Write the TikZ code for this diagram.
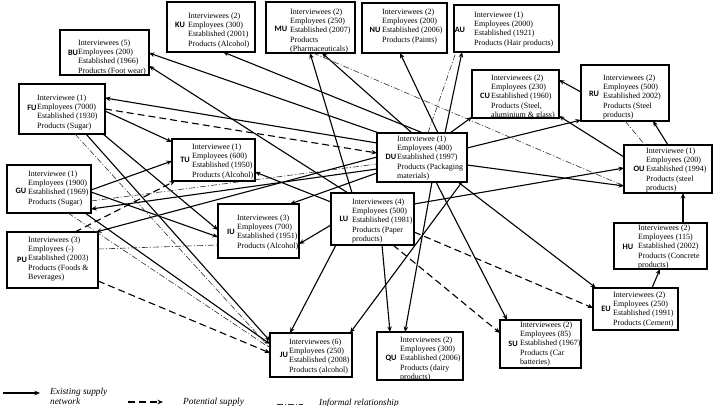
\documentclass[tikz,border=0pt]{standalone}
\usepackage{fontspec}
\setmainfont{Liberation Serif}
\newfontfamily\lblfont{Carlito}
\usetikzlibrary{arrows.meta,calc}
\begin{document}
\begin{tikzpicture}[x=1pt,y=-1pt,
  ubox/.style={draw,line width=1.3pt,inner sep=0pt,outer sep=0pt,anchor=north west},
  utext/.style={anchor=north west,inner sep=0pt,align=left,font=\fontsize{8}{9.2}\selectfont},
  ulabel/.style={inner sep=0pt,font=\lblfont\bfseries\fontsize{8.2}{9}\selectfont},
  sup/.style={line width=1.1pt,-{Stealth[length=5.5pt,width=4.5pt]}},
  pot/.style={line width=1.1pt,dash pattern=on 7pt off 4pt,-{Stealth[length=5.5pt,width=4.5pt]}},
  inf/.style={line width=0.6pt,black!80,dash pattern=on 6pt off 2pt on 1pt off 2pt},
  legtext/.style={inner sep=0pt,align=left,font=\itshape\fontsize{9.3}{9.5}\selectfont}]
\useasboundingbox (0,0) rectangle (719,406);
\fill[white] (0,0) rectangle (719,406);
% boxes
\node[ubox,minimum width=89pt,minimum height=45pt] (BU) at (60,30) {};
\node[ubox,minimum width=88pt,minimum height=50pt] (KU) at (167,2) {};
\node[ubox,minimum width=89pt,minimum height=51pt] (MU) at (266,2) {};
\node[ubox,minimum width=85pt,minimum height=50pt] (NU) at (362,3) {};
\node[ubox,minimum width=105pt,minimum height=47pt] (AU) at (454,5) {};
\node[ubox,minimum width=87pt,minimum height=48pt] (CU) at (472,70) {};
\node[ubox,minimum width=88pt,minimum height=56pt] (RU) at (581,65) {};
\node[ubox,minimum width=86pt,minimum height=50pt] (FU) at (19,84) {};
\node[ubox,minimum width=83pt,minimum height=42pt] (TU) at (172,139) {};
\node[ubox,minimum width=84pt,minimum height=48pt] (GU) at (7,165) {};
\node[ubox,minimum width=91pt,minimum height=56pt] (PU) at (7,232) {};
\node[ubox,minimum width=81pt,minimum height=54pt] (IU) at (218,204) {};
\node[ubox,minimum width=83pt,minimum height=52pt] (LU) at (331,193) {};
\node[ubox,minimum width=90pt,minimum height=49pt] (DU) at (377,133) {};
\node[ubox,minimum width=88pt,minimum height=48pt] (OU) at (624,145) {};
\node[ubox,minimum width=93pt,minimum height=46pt] (HU) at (614,223) {};
\node[ubox,minimum width=85pt,minimum height=42pt] (EU) at (593,288) {};
\node[ubox,minimum width=81pt,minimum height=48pt] (SU) at (500,320) {};
\node[ubox,minimum width=86pt,minimum height=48pt] (QU) at (377,332) {};
\node[ubox,minimum width=82pt,minimum height=44pt] (JU) at (270,333) {};
% texts
\node[utext] (BUt) at (78,39.7) {Interviewees (5)\\Employees (200)\\Established (1966)\\Products (Foot wear)};
\node[utext] (KUt) at (188,12.7) {Interviewees (2)\\Employees (300)\\Established (2001)\\Products (Alcohol)};
\node[utext] (MUt) at (290,8.7) {Interviewees (2)\\Employees (250)\\Established (2007)\\Products\\(Pharmaceuticals)};
\node[utext] (NUt) at (382,8.7) {Interviewees (2)\\Employees (200)\\Established (2006)\\Products (Paints)};
\node[utext] (AUt) at (474,11.7) {Interviewee (1)\\Employees (2000)\\Established (1921)\\Products (Hair products)};
\node[utext] (CUt) at (491,74.7) {Interviewees (2)\\Employees (230)\\Established (1960)\\Products (Steel,\\aluminium \& glass)};
\node[utext] (RUt) at (603,74.7) {Interviewees (2)\\Employees (500)\\Established 2002)\\Products (Steel\\products)};
\node[utext] (FUt) at (37,94.7) {Interviewee (1)\\Employees (7000)\\Established (1930)\\Products (Sugar)};
\node[utext] (TUt) at (192,143.7) {Interviewee (1)\\Employees (600)\\Established (1950)\\Products (Alcohol)};
\node[utext] (GUt) at (28,170.7) {Interviewee (1)\\Employees (1900)\\Established (1969)\\Products (Sugar)};
\node[utext] (PUt) at (28,236.7) {Interviewees (3)\\Employees (-)\\Established (2003)\\Products (Foods \&\\Beverages)};
\node[utext] (IUt) at (237,214.7) {Interviewees (3)\\Employees (700)\\Established (1951)\\Products (Alcohol)};
\node[utext] (LUt) at (352,198.7) {Interviewees (4)\\Employees (500)\\Established (1981)\\Products (Paper\\products)};
\node[utext] (DUt) at (397,135.7) {Interviewee (1)\\Employees (400)\\Established (1997)\\Products (Packaging\\materials)};
\node[utext] (OUt) at (646,147.7) {Interviewee (1)\\Employees (200)\\Established (1994)\\Products (steel\\products)};
\node[utext] (HUt) at (638,224.7) {Interviewees (2)\\Employees (115)\\Established (2002)\\Products (Concrete\\products)};
\node[utext] (EUt) at (613,291.7) {Interviewees (2)\\Employees (250)\\Established (1991)\\Products (Cement)};
\node[utext] (SUt) at (520,321.7) {Interviewees (2)\\Employees (85)\\Established (1967)\\Products (Car\\batteries)};
\node[utext] (QUt) at (400,336.7) {Interviewees (2)\\Employees (300)\\Established (2006)\\Products (dairy\\products)};
\node[utext] (JUt) at (289,338.7) {Interviewees (6)\\Employees (250)\\Established (2008)\\Products (alcohol)};
% labels
\node[ulabel] (BUl) at (73,53) {BU};
\node[ulabel] (KUl) at (180,25) {KU};
\node[ulabel] (MUl) at (281,29) {MU};
\node[ulabel] (NUl) at (375,30) {NU};
\node[ulabel] (AUl) at (460,30) {AU};
\node[ulabel] (CUl) at (485,96) {CU};
\node[ulabel] (RUl) at (594,94) {RU};
\node[ulabel] (FUl) at (32,108) {FU};
\node[ulabel] (TUl) at (185,160) {TU};
\node[ulabel] (GUl) at (21,191) {GU};
\node[ulabel] (PUl) at (22,260) {PU};
\node[ulabel] (IUl) at (231,232) {IU};
\node[ulabel] (LUl) at (344,219) {LU};
\node[ulabel] (DUl) at (391,157) {DU};
\node[ulabel] (OUl) at (639,169) {OU};
\node[ulabel] (HUl) at (628,247) {HU};
\node[ulabel] (EUl) at (606,309) {EU};
\node[ulabel] (SUl) at (513,344) {SU};
\node[ulabel] (QUl) at (391,358) {QU};
\node[ulabel] (JUl) at (284,355) {JU};
% existing supply
\draw[sup] ([shift={(2,0)}]DU.north west) -- ([shift={(89,23)}]BU.north west);
\draw[sup] ([shift={(17,0)}]LU.north west) -- ([shift={(89,36)}]BU.north west);
\draw[sup] ([shift={(46,0)}]DU.north west) -- ([shift={(56,50)}]KU.north west);
\draw[sup] ([shift={(35,0)}]DU.north west) -- ([shift={(56,51)}]MU.north west);
\draw[sup] ([shift={(21,0)}]LU.north west) -- ([shift={(44,51)}]MU.north west);
\draw[sup] ([shift={(61,0)}]DU.north west) -- ([shift={(38,50)}]NU.north west);
\draw[sup] ([shift={(68,0)}]DU.north west) -- ([shift={(8,47)}]AU.north west);
\draw[sup] ([shift={(73,0)}]DU.north west) -- ([shift={(0,47)}]CU.north west);
\draw[sup] ([shift={(90,15)}]DU.north west) -- ([shift={(0,55)}]RU.north west);
\draw[sup] ([shift={(0,12)}]OU.north west) -- ([shift={(87,46)}]CU.north west);
\draw[sup] ([shift={(0,27)}]RU.north west) -- ([shift={(87,10)}]CU.north west);
\draw[sup] ([shift={(44,0)}]OU.north west) -- ([shift={(72,56)}]RU.north west);
\draw[sup] ([shift={(69,0)}]HU.north west) -- ([shift={(59,48)}]OU.north west);
\draw[sup] ([shift={(59,0)}]EU.north west) -- ([shift={(46,46)}]HU.north west);
\draw[sup] ([shift={(90,32)}]DU.north west) -- ([shift={(0,41)}]OU.north west);
\draw[sup] ([shift={(83,11)}]LU.north west) -- ([shift={(0,23)}]OU.north west);
\draw[sup] ([shift={(81,49)}]DU.north west) -- ([shift={(3,0)}]EU.north west);
\draw[sup] ([shift={(59,49)}]DU.north west) -- ([shift={(7,0)}]SU.north west);
\draw[sup] ([shift={(55,49)}]DU.north west) -- ([shift={(28,0)}]QU.north west);
\draw[sup] ([shift={(51,52)}]LU.north west) -- ([shift={(13,0)}]QU.north west);
\draw[sup] ([shift={(85,49)}]DU.north west) -- ([shift={(80,0)}]JU.north west);
\draw[sup] ([shift={(5,52)}]LU.north west) -- ([shift={(20,0)}]JU.north west);
\draw[sup] ([shift={(0,32)}]LU.north west) -- ([shift={(81,40)}]IU.north west);
\draw[sup] ([shift={(0,40)}]DU.north west) -- ([shift={(72,0)}]IU.north west);
\draw[sup] ([shift={(0,9)}]LU.north west) -- ([shift={(83,33)}]TU.north west);
\draw[sup] ([shift={(0,10)}]DU.north west) -- ([shift={(86,14)}]FU.north west);
\draw[sup] ([shift={(86,27)}]FU.north west) -- ([shift={(0,3)}]TU.north west);
\draw[sup] ([shift={(84,50)}]FU.north west) -- ([shift={(0,26)}]IU.north west);
\draw[sup] ([shift={(84,25)}]GU.north west) -- ([shift={(0,22)}]TU.north west);
\draw[sup] ([shift={(84,27)}]GU.north west) -- ([shift={(0,33)}]IU.north west);
\draw[sup] ([shift={(0,36)}]DU.north west) -- ([shift={(84,44)}]GU.north west);
\draw[sup] ([shift={(0,24)}]DU.north west) -- ([shift={(89,0)}]PU.north west);
\draw[sup] ([shift={(67,50)}]FU.north west) -- ([shift={(0,8)}]JU.north west);
\draw[sup] ([shift={(78,48)}]GU.north west) -- ([shift={(0,11)}]JU.north west);
% potential supply
\draw[pot] ([shift={(68,0)}]PU.north west) -- ([shift={(3,42)}]TU.north west);
\draw[pot] ([shift={(91,49)}]PU.north west) -- ([shift={(0,20)}]JU.north west);
\draw[pot] ([shift={(62,52)}]LU.north west) -- ([shift={(0,13)}]SU.north west);
\draw[pot] ([shift={(83,39)}]LU.north west) -- ([shift={(0,20)}]EU.north west);
\draw[pot] ([shift={(86,25)}]FU.north west) -- ([shift={(0,20)}]DU.north west);
% informal
\draw[inf] ([shift={(47,51)}]MU.north west) -- ([shift={(0,41)}]OU.north west);
\draw[inf] ([shift={(51,0)}]DU.north west) -- ([shift={(2,47)}]AU.north west);
\draw[inf] ([shift={(44,56)}]RU.north west) -- ([shift={(21,0)}]OU.north west);
\draw[inf] ([shift={(84,36)}]GU.north west) -- ([shift={(0,31)}]DU.north west);
\draw[inf] ([shift={(91,17)}]PU.north west) -- ([shift={(0,41)}]IU.north west);
\draw[inf] ([shift={(56,50)}]FU.north west) -- ([shift={(0,15)}]JU.north west);
\draw[inf] ([shift={(61,48)}]GU.north west) -- ([shift={(0,15)}]JU.north west);
% legend
\coordinate (L1a) at (3,393); \coordinate (L1b) at (40,393);
\coordinate (L2a) at (128,402); \coordinate (L2b) at (163,402);
\coordinate (L3a) at (277,404); \coordinate (L3b) at (303,404);
\draw[sup] (L1a) -- (L1b);
\draw[pot] (L2a) -- (L2b);
\draw[inf] (L3a) -- (L3b);
\node[legtext,anchor=north west] (T1) at (50,388.2) {Existing supply\\network};
\node[legtext,anchor=west] (T2) at (183,402) {Potential supply};
\node[legtext,anchor=west] (T3) at (319,403) {Informal relationship};
\end{tikzpicture}
\end{document}
